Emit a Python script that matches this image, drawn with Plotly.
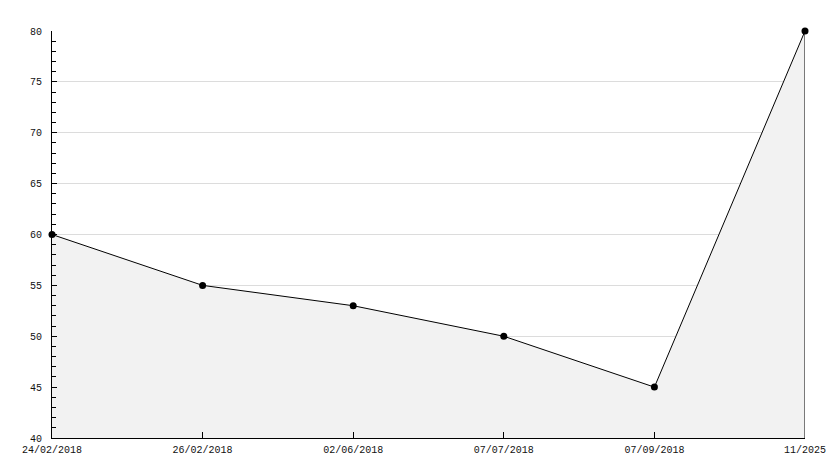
import plotly.graph_objects as go

categories = ["24/02/2018", "26/02/2018", "02/06/2018", "07/07/2018", "07/09/2018", "11/2025"]
values = [60, 55, 53, 50, 45, 80]
y_min, y_max = 40, 80

fig = go.Figure()
fig.add_trace(go.Scatter(
    x=categories, y=values, mode="lines+markers",
    line=dict(color="black", width=1),
    marker=dict(color="black", size=7, symbol="circle"),
    fill="tozeroy", fillcolor="#f2f2f2",
    hoverinfo="x+y", showlegend=False, cliponaxis=False,
))
fig.add_shape(type="line", xref="x", yref="y",
              x0=categories[-1], x1=categories[-1], y0=y_min, y1=values[-1],
              line=dict(color="black", width=1))

fig.update_layout(
    width=834, height=468,
    margin=dict(l=52, r=29, t=31, b=30, autoexpand=False),
    paper_bgcolor="white", plot_bgcolor="white",
    font=dict(family="Liberation Mono", size=10, color="#111111"),
    xaxis=dict(
        type="category", range=[0, len(categories) - 1], automargin=False,
        showline=True, linecolor="black", linewidth=1,
        ticks="inside", ticklen=6, tickcolor="black",
        showgrid=False, zeroline=False, ticklabelstandoff=2,
    ),
    yaxis=dict(
        range=[y_min, y_max], dtick=5, tick0=0, automargin=False,
        showline=True, linecolor="black", linewidth=1,
        ticks="inside", ticklen=5, tickcolor="black",
        showgrid=True, gridcolor="#dcdcdc", gridwidth=1, zeroline=False,
        ticklabelstandoff=7,
        minor=dict(dtick=1, ticks="inside", ticklen=4, tickcolor="black", showgrid=False),
    ),
)
fig.write_html(
    "out.html",
    config={"displayModeBar": False},
    post_script="document.body.style.margin='0';document.body.style.overflow='hidden';",
)
